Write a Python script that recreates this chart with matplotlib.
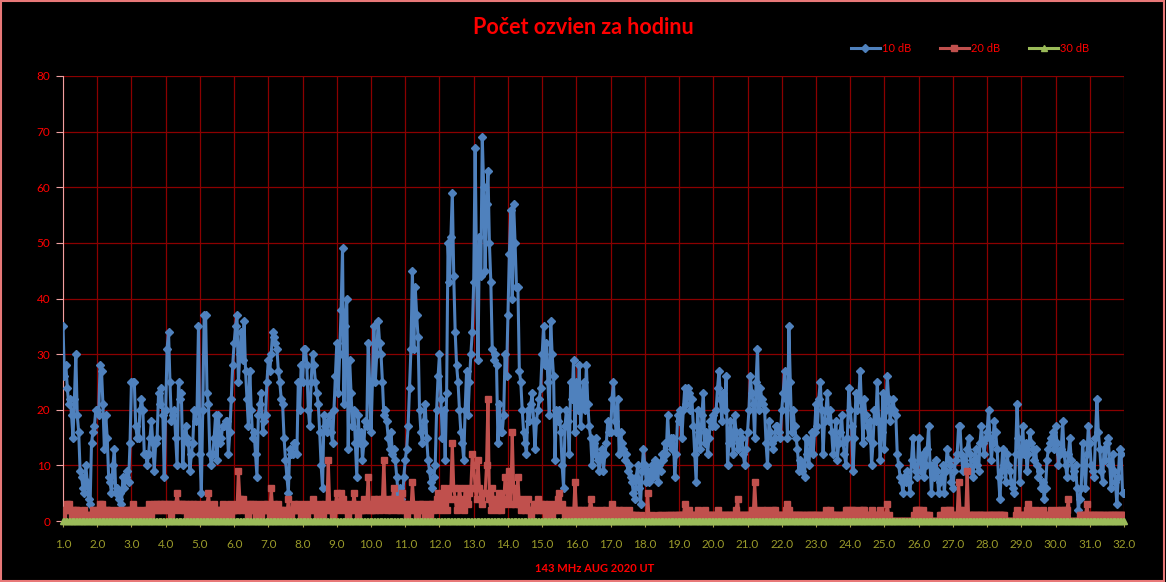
import matplotlib
matplotlib.use("Agg")
import matplotlib.pyplot as plt
import numpy as np
from matplotlib.patches import Rectangle

# hourly counts, 1 Aug 00 UT .. 1 Sep 00 UT (one row per day)
ten_db = [
    35, 26, 28, 24, 21, 22, 19, 15, 22, 30, 19, 16, 9, 8, 6, 5, 10, 7, 4, 3, 14, 16, 17, 20,
    20, 19, 28, 27, 21, 13, 19, 15, 8, 7, 5, 10, 13, 5, 6, 4, 5, 3, 8, 6, 8, 9, 7, 14,
    25, 25, 25, 17, 15, 15, 20, 22, 20, 12, 12, 10, 12, 15, 18, 14, 9, 14, 15, 23, 21, 24, 19, 8,
    20, 31, 34, 25, 18, 19, 20, 15, 10, 25, 22, 23, 10, 15, 17, 15, 14, 9, 12, 14, 20, 18, 20, 35,
    12, 5, 20, 37, 37, 23, 21, 12, 10, 12, 15, 19, 11, 19, 14, 15, 17, 17, 18, 18, 12, 16, 22, 28,
    32, 35, 37, 25, 30, 34, 29, 36, 27, 22, 17, 27, 20, 15, 16, 12, 8, 19, 21, 23, 16, 18, 19, 25,
    29, 27, 30, 34, 33, 32, 31, 27, 25, 22, 21, 15, 11, 8, 5, 13, 12, 12, 14, 14, 12, 25, 20, 28,
    25, 31, 31, 28, 20, 17, 25, 30, 28, 25, 23, 21, 16, 10, 6, 19, 17, 16, 18, 19, 16, 14, 20, 26,
    32, 23, 30, 38, 49, 21, 35, 40, 13, 29, 23, 17, 20, 14, 8, 19, 14, 16, 11, 14, 18, 17, 32, 25,
    16, 25, 35, 25, 30, 36, 32, 30, 25, 19, 20, 18, 15, 13, 16, 12, 13, 11, 8, 5, 6, 4, 3, 8,
    11, 13, 17, 24, 31, 45, 31, 42, 37, 33, 20, 16, 14, 18, 21, 15, 11, 9, 7, 6, 8, 10, 20, 26,
    30, 22, 15, 20, 11, 23, 50, 43, 51, 59, 44, 34, 28, 25, 20, 16, 14, 11, 20, 27, 19, 25, 30, 34,
    43, 67, 45, 29, 51, 44, 69, 60, 45, 57, 63, 50, 43, 31, 29, 30, 28, 14, 21, 16, 16, 19, 30, 26,
    37, 48, 56, 40, 57, 50, 42, 42, 27, 25, 20, 16, 14, 12, 20, 18, 21, 23, 18, 13, 18, 20, 22, 24,
    30, 35, 28, 32, 25, 19, 36, 30, 26, 11, 20, 18, 20, 16, 10, 6, 17, 20, 18, 12, 25, 22, 29, 16,
    25, 20, 28, 17, 22, 25, 20, 28, 21, 17, 15, 10, 14, 12, 15, 11, 9, 12, 13, 9, 12, 14, 18, 16,
    16, 22, 25, 18, 16, 22, 12, 16, 14, 13, 11, 12, 9, 10, 8, 7, 5, 4, 8, 10, 6, 3, 9, 13,
    10, 7, 9, 7, 8, 10, 8, 11, 9, 7, 10, 9, 12, 11, 14, 12, 19, 14, 15, 13, 15, 8, 12, 19,
    18, 20, 15, 20, 24, 21, 24, 23, 20, 22, 17, 12, 7, 20, 16, 13, 19, 23, 14, 16, 12, 15, 18, 17,
    19, 17, 20, 24, 27, 22, 18, 23, 20, 26, 10, 14, 18, 15, 12, 19, 16, 13, 14, 16, 15, 12, 10, 13,
    16, 20, 26, 23, 21, 15, 25, 31, 20, 24, 22, 21, 20, 14, 10, 18, 16, 14, 13, 15, 17, 17, 16, 15,
    20, 23, 27, 22, 15, 35, 25, 16, 20, 17, 15, 13, 9, 11, 9, 10, 8, 15, 12, 10, 14, 16, 12, 16,
    21, 17, 22, 25, 20, 12, 18, 20, 23, 18, 20, 16, 12, 15, 18, 11, 14, 16, 19, 14, 12, 10, 15, 24,
    20, 17, 9, 15, 23, 20, 22, 27, 20, 14, 22, 19, 17, 15, 18, 10, 14, 20, 18, 25, 18, 11, 16, 23,
    13, 20, 26, 22, 18, 20, 22, 20, 19, 12, 10, 8, 7, 5, 8, 7, 9, 7, 5, 11, 15, 10, 9, 8,
    15, 11, 9, 12, 8, 10, 13, 17, 10, 5, 10, 8, 11, 9, 5, 7, 8, 10, 5, 9, 13, 11, 10, 7,
    6, 9, 11, 12, 17, 17, 12, 9, 11, 10, 13, 15, 12, 9, 8, 11, 13, 10, 9, 14, 17, 14, 12, 15,
    16, 20, 15, 11, 14, 18, 16, 13, 8, 4, 9, 13, 10, 7, 12, 10, 9, 7, 6, 5, 12, 21, 15, 7,
    12, 17, 12, 14, 9, 12, 16, 14, 13, 11, 13, 10, 8, 9, 6, 7, 4, 6, 11, 13, 14, 15, 16, 13,
    17, 14, 10, 12, 13, 18, 12, 10, 8, 12, 15, 11, 8, 9, 10, 6, 2, 4, 6, 14, 10, 6, 12, 17,
    14, 10, 9, 8, 15, 22, 16, 13, 9, 7, 13, 11, 14, 15, 10, 6, 12, 9, 7, 3, 8, 13, 12, 5,
    5,
]

twenty_db = [
    1, 2, 2, 3, 3, 2, 1, 2, 1, 2, 2, 1, 0, 1, 1, 2, 1, 1, 0, 1, 1, 2, 2, 1,
    1, 2, 3, 3, 2, 1, 2, 2, 1, 1, 2, 1, 1, 1, 2, 1, 1, 1, 2, 1, 1, 2, 2, 1,
    2, 3, 2, 1, 2, 1, 1, 1, 2, 1, 1, 2, 3, 2, 1, 2, 3, 3, 2, 2, 3, 3, 2, 3,
    2, 3, 3, 2, 1, 3, 2, 3, 5, 3, 2, 3, 3, 2, 3, 1, 2, 3, 2, 3, 1, 2, 3, 2,
    1, 2, 3, 1, 2, 3, 5, 2, 1, 2, 3, 2, 1, 2, 1, 2, 3, 2, 1, 2, 2, 3, 1, 2,
    2, 3, 2, 9, 4, 2, 4, 3, 2, 3, 1, 2, 3, 3, 2, 1, 2, 3, 2, 1, 2, 3, 2, 3,
    2, 1, 6, 2, 3, 1, 2, 3, 2, 1, 2, 1, 2, 1, 4, 2, 1, 2, 3, 2, 2, 3, 2, 1,
    2, 3, 2, 1, 2, 3, 2, 4, 3, 2, 1, 2, 3, 2, 1, 2, 3, 2, 11, 3, 2, 1, 2, 3,
    5, 2, 3, 5, 4, 2, 3, 2, 1, 2, 3, 2, 5, 3, 2, 1, 2, 3, 2, 4, 2, 3, 8, 2,
    3, 2, 4, 2, 3, 4, 2, 3, 4, 11, 3, 2, 4, 3, 2, 4, 6, 3, 2, 4, 2, 3, 5, 2,
    3, 1, 2, 3, 2, 7, 3, 2, 1, 2, 3, 2, 3, 2, 1, 2, 3, 1, 2, 3, 2, 3, 4, 5,
    3, 2, 4, 6, 3, 2, 5, 4, 6, 14, 6, 4, 2, 3, 6, 4, 3, 2, 6, 4, 3, 5, 6, 12,
    10, 6, 4, 11, 6, 4, 3, 5, 5, 10, 22, 4, 2, 6, 3, 4, 2, 3, 5, 2, 4, 3, 8, 6,
    4, 9, 3, 16, 6, 3, 4, 8, 3, 2, 4, 3, 2, 3, 4, 2, 1, 2, 3, 2, 3, 4, 2, 3,
    2, 3, 2, 1, 2, 3, 2, 1, 2, 3, 2, 4, 5, 2, 3, 2, 1, 2, 1, 2, 1, 2, 1, 7,
    2, 1, 2, 1, 2, 1, 1, 2, 1, 2, 4, 2, 1, 1, 2, 1, 1, 1, 2, 1, 1, 2, 1, 1,
    1, 3, 1, 2, 1, 1, 2, 1, 1, 2, 1, 1, 1, 2, 1, 1, 0, 1, 1, 0, 0, 1, 0, 0,
    0, 0, 5, 0, 0, 1, 0, 0, 0, 0, 1, 1, 0, 0, 0, 1, 1, 0, 1, 0, 1, 1, 0, 1,
    1, 1, 1, 1, 3, 1, 1, 2, 1, 1, 1, 1, 1, 2, 1, 1, 1, 1, 2, 1, 1, 1, 1, 1,
    1, 1, 1, 2, 1, 1, 1, 1, 1, 1, 1, 1, 1, 1, 1, 1, 2, 4, 1, 1, 1, 1, 1, 1,
    1, 1, 1, 2, 1, 7, 2, 1, 1, 1, 2, 1, 1, 1, 2, 1, 1, 1, 2, 2, 1, 1, 1, 1,
    1, 1, 1, 2, 3, 2, 1, 1, 1, 1, 1, 1, 1, 1, 1, 1, 0, 1, 1, 1, 1, 1, 1, 1,
    1, 1, 0, 1, 1, 1, 1, 2, 1, 1, 2, 1, 1, 1, 1, 1, 0, 1, 1, 1, 1, 2, 2, 1,
    1, 2, 2, 1, 1, 1, 2, 1, 1, 2, 2, 1, 1, 1, 1, 2, 1, 1, 1, 1, 1, 2, 1, 1,
    1, 1, 3, 1, 0, 0, 0, 0, 0, 0, 0, 0, 0, 0, 0, 0, 0, 0, 0, 0, 0, 1, 2, 2,
    2, 1, 1, 2, 1, 1, 1, 1, 0, 0, 0, 0, 0, 0, 0, 1, 1, 1, 2, 1, 1, 2, 2, 1,
    1, 1, 1, 1, 7, 2, 1, 1, 2, 1, 9, 1, 1, 1, 1, 1, 1, 1, 1, 1, 1, 1, 1, 0,
    1, 1, 1, 1, 1, 1, 1, 1, 1, 1, 1, 1, 1, 0, 0, 0, 0, 0, 0, 0, 1, 2, 1, 1,
    1, 1, 1, 1, 2, 3, 2, 1, 1, 1, 2, 1, 1, 1, 1, 2, 1, 1, 1, 1, 1, 2, 1, 1,
    1, 2, 1, 1, 2, 1, 2, 1, 2, 4, 0, 0, 0, 0, 0, 0, 0, 1, 1, 1, 1, 1, 3, 1,
    1, 1, 1, 1, 1, 1, 1, 1, 1, 1, 1, 0, 1, 1, 1, 1, 1, 1, 1, 1, 1, 1, 1, 1,
    1,
]

thirty_db = [0] * len(ten_db)

day_ticks = list(range(1, 33))
day_labels = [f"{d}.0" for d in day_ticks]

plt.rcParams["font.family"] = ["Lato", "DejaVu Sans"]

hours = 1 + np.arange(len(ten_db)) / 24

fig = plt.figure(figsize=(11.66, 5.82), dpi=100, facecolor="black")
ax = fig.add_axes([63 / 1166, 1 - 521 / 582, (1124 - 63) / 1166, 445 / 582])
ax.set_facecolor("black")

ax.plot(hours, ten_db, color="#4f81bd", lw=2.2, marker="D", ms=4.2, label="10 dB", zorder=3)
ax.plot(hours, twenty_db, color="#c0504d", lw=2.2, marker="s", ms=5, label="20 dB", zorder=4)
ax.plot(hours, thirty_db, color="#9bbb59", lw=2.2, marker="^", ms=5, label="30 dB",
        zorder=5, clip_on=False)

ax.set_xlim(1, 32)
ax.set_ylim(0, 80)
ax.set_xticks(day_ticks)
ax.set_xticklabels(day_labels)
ax.set_yticks(range(0, 81, 10))
ax.grid(True, color="#8b0000", lw=0.9)
ax.set_axisbelow(True)

for side in ("top", "right", "bottom"):
    ax.spines[side].set_visible(False)
ax.spines["left"].set_color("#f0a0a0")
ax.tick_params(axis="y", colors="#f0a0a0", labelcolor="red", labelsize=8.5, length=5, pad=4)
ax.tick_params(axis="x", colors="#a89a4a", labelcolor="#9a9a2a", labelsize=8.5, length=4, pad=9)

fig.text(0.5, 1 - 27 / 582, "Počet ozvien za hodinu", color="red", fontsize=15.5,
         fontweight="bold", ha="center", va="center")
fig.text(595 / 1166, 1 - 569 / 582, "143 MHz AUG 2020 UT", color="red", fontsize=8,
         fontweight="bold", ha="center", va="center")

leg = fig.legend(loc="center", bbox_to_anchor=(970 / 1166, 1 - 48 / 582), ncol=3,
                 frameon=False, fontsize=8, handlelength=2.6, columnspacing=2.6,
                 handletextpad=0.2)
for t in leg.get_texts():
    t.set_color("red")

fig.add_artist(Rectangle((0.001, 0.002), 0.997, 0.996, transform=fig.transFigure,
                         fill=False, edgecolor="#e87878", lw=1.5))

fig.savefig("out.png", dpi=100, facecolor="black")
